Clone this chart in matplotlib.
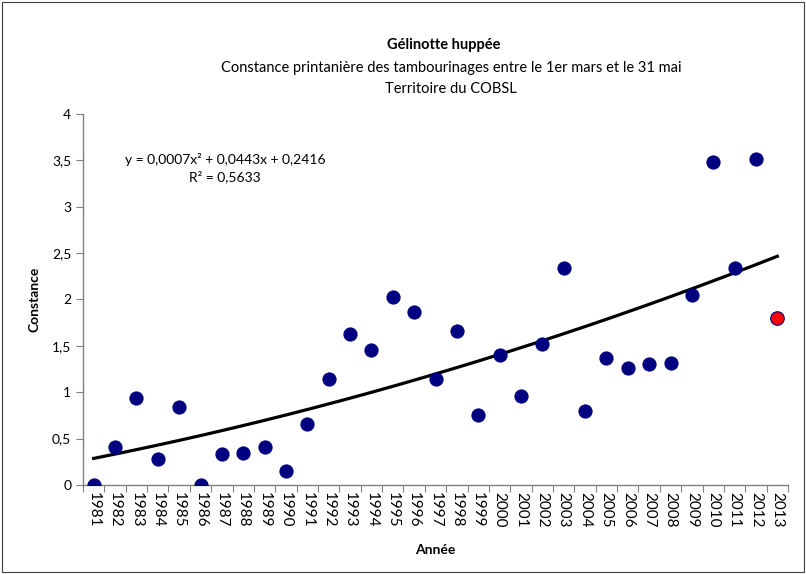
import numpy as np
import matplotlib
matplotlib.use('Agg')
import matplotlib.pyplot as plt
from matplotlib.patches import Rectangle
from matplotlib.ticker import FuncFormatter

plt.rcParams['font.family'] = ['Lato', 'DejaVu Sans']

years = list(range(1981, 2014))
constance = [0.0, 0.41, 0.94, 0.28, 0.84, 0.0, 0.33, 0.345, 0.41, 0.15,
             0.66, 1.14, 1.63, 1.455, 2.03, 1.865, 1.14, 1.66, 0.755, 1.40,
             0.96, 1.52, 2.34, 0.80, 1.37, 1.26, 1.30, 1.315, 2.05, 3.48,
             2.34, 3.51, 1.80]
highlight_year = 2013

# Excel polynomial trendline (x = 1..n)
coef = [0.0007, 0.0443, 0.2416]
r2 = 0.5633

navy = '#000080'

fig = plt.figure(figsize=(8.06, 5.74), dpi=100)
ax = fig.add_axes([0.1030, 0.1551, 0.8747, 0.6463])

x = np.arange(1, len(years) + 1)
y = np.array(constance)
is_hl = np.array([yr == highlight_year for yr in years])

xs = np.linspace(1, len(years), 200)
ax.plot(xs, np.polyval(coef, xs), color='black', lw=2.3, zorder=2)

ax.scatter(x[~is_hl], y[~is_hl], s=105, color=navy, zorder=3, linewidths=0)
ax.scatter(x[is_hl], y[is_hl], s=95, color='#FF0000', edgecolor=navy,
           linewidths=0.8, zorder=3)

ax.set_xlim(0.5, len(years) + 0.5)
ax.set_ylim(0, 4)

# category axis: ticks between categories, labels at centres
ax.set_xticks(np.arange(0.5, len(years) + 1, 1))
ax.set_xticklabels([])
ax.set_xticks(x, minor=True)
ax.set_xticklabels([str(v) for v in years], minor=True, rotation=270,
                   fontsize=11)
ax.tick_params(axis='x', which='major', length=5, direction='out',
               color='#808080')
ax.tick_params(axis='x', which='minor', length=0, pad=5)

ax.set_yticks(np.arange(0, 4.01, 0.5))
ax.yaxis.set_major_formatter(FuncFormatter(
    lambda v, p: ('%g' % v).replace('.', ',')))
ax.tick_params(axis='y', length=5, direction='out', color='#808080',
               labelsize=10)

for side in ('top', 'right'):
    ax.spines[side].set_visible(False)
for side in ('left', 'bottom'):
    ax.spines[side].set_color('#808080')
    ax.spines[side].set_linewidth(1.0)

ax.set_ylabel('Constance', fontsize=10, fontweight='bold', labelpad=8)
ax.set_xlabel('Année', fontsize=10, fontweight='bold', labelpad=12)

eq = 'y = 0,0007x² + 0,0443x + 0,2416\nR² = {}'.format(
    ('%.4f' % r2).replace('.', ','))
ax.text(0.2014, 0.854, eq, transform=ax.transAxes, ha='center',
        va='center', multialignment='center', fontsize=10, linespacing=1.35)

fig.text(0.55, 0.922, 'Gélinotte huppée', ha='center', va='center',
         fontsize=10.5, fontweight='bold')
fig.text(0.56, 0.882,
         'Constance printanière des tambourinages entre le 1er mars et le 31 mai',
         ha='center', va='center', fontsize=10.5)
fig.text(0.56, 0.845, 'Territoire du COBSL', ha='center', va='center',
         fontsize=10.5)

fig.patches.append(Rectangle((0.002, 0.003), 0.995, 0.994,
                             transform=fig.transFigure, fill=False,
                             edgecolor='#404040', lw=0.8))

fig.savefig('out.png', dpi=100)
